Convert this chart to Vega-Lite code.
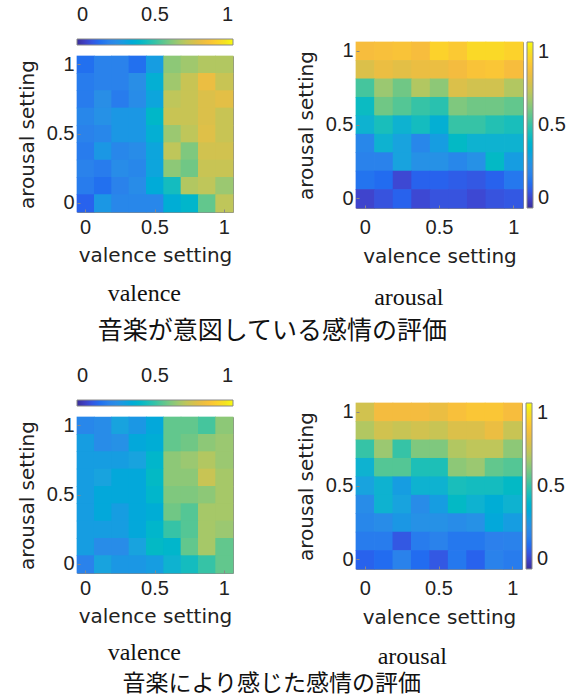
{
  "$schema": "https://vega.github.io/schema/vega-lite/v6.json",
  "background": "white",
  "padding": {"left": 16, "top": 39, "right": 4, "bottom": 2},
  "config": {
    "view": {"stroke": "#8a8a8a", "strokeWidth": 1},
    "font": "DejaVu Sans",
    "axis": {"labelFont": "Liberation Sans", "titleFont": "DejaVu Sans", "labelFontSize": 20, "titleFontSize": 20, "titleFontWeight": "normal", "labelColor": "#222", "titleColor": "#222", "domain": false, "grid": false, "ticks": true, "tickSize": -3, "tickColor": "#888", "labelAngle": 0},
    "legend": {"labelFont": "Liberation Sans", "labelFontSize": 20, "labelColor": "#222", "gradientStrokeColor": "#888", "gradientStrokeWidth": 1},
    "title": {"fontWeight": "normal", "color": "#111"}
  },
  "datasets": {
    "spacer": [{"k": 1}],
    "tl": [
      {"v":0,"a":1,"z":0.15},{"v":0.125,"a":1,"z":0.2},{"v":0.25,"a":1,"z":0.2},{"v":0.375,"a":1,"z":0.15},{"v":0.5,"a":1,"z":0.3},{"v":0.625,"a":1,"z":0.62},{"v":0.75,"a":1,"z":0.65},{"v":0.875,"a":1,"z":0.68},{"v":1,"a":1,"z":0.68},
      {"v":0,"a":0.875,"z":0.18},{"v":0.125,"a":0.875,"z":0.2},{"v":0.25,"a":0.875,"z":0.2},{"v":0.375,"a":0.875,"z":0.25},{"v":0.5,"a":0.875,"z":0.37},{"v":0.625,"a":0.875,"z":0.65},{"v":0.75,"a":0.875,"z":0.72},{"v":0.875,"a":0.875,"z":0.8},{"v":1,"a":0.875,"z":0.72},
      {"v":0,"a":0.75,"z":0.18},{"v":0.125,"a":0.75,"z":0.25},{"v":0.25,"a":0.75,"z":0.18},{"v":0.375,"a":0.75,"z":0.24},{"v":0.5,"a":0.75,"z":0.33},{"v":0.625,"a":0.75,"z":0.7},{"v":0.75,"a":0.75,"z":0.72},{"v":0.875,"a":0.75,"z":0.76},{"v":1,"a":0.75,"z":0.78},
      {"v":0,"a":0.625,"z":0.22},{"v":0.125,"a":0.625,"z":0.26},{"v":0.25,"a":0.625,"z":0.28},{"v":0.375,"a":0.625,"z":0.28},{"v":0.5,"a":0.625,"z":0.41},{"v":0.625,"a":0.625,"z":0.72},{"v":0.75,"a":0.625,"z":0.72},{"v":0.875,"a":0.625,"z":0.76},{"v":1,"a":0.625,"z":0.72},
      {"v":0,"a":0.5,"z":0.2},{"v":0.125,"a":0.5,"z":0.22},{"v":0.25,"a":0.5,"z":0.28},{"v":0.375,"a":0.5,"z":0.28},{"v":0.5,"a":0.5,"z":0.37},{"v":0.625,"a":0.5,"z":0.64},{"v":0.75,"a":0.5,"z":0.7},{"v":0.875,"a":0.5,"z":0.77},{"v":1,"a":0.5,"z":0.72},
      {"v":0,"a":0.375,"z":0.18},{"v":0.125,"a":0.375,"z":0.28},{"v":0.25,"a":0.375,"z":0.22},{"v":0.375,"a":0.375,"z":0.24},{"v":0.5,"a":0.375,"z":0.33},{"v":0.625,"a":0.375,"z":0.7},{"v":0.75,"a":0.375,"z":0.6},{"v":0.875,"a":0.375,"z":0.74},{"v":1,"a":0.375,"z":0.74},
      {"v":0,"a":0.25,"z":0.2},{"v":0.125,"a":0.25,"z":0.18},{"v":0.25,"a":0.25,"z":0.24},{"v":0.375,"a":0.25,"z":0.22},{"v":0.5,"a":0.25,"z":0.33},{"v":0.625,"a":0.25,"z":0.62},{"v":0.75,"a":0.25,"z":0.58},{"v":0.875,"a":0.25,"z":0.72},{"v":1,"a":0.25,"z":0.72},
      {"v":0,"a":0.125,"z":0.18},{"v":0.125,"a":0.125,"z":0.15},{"v":0.25,"a":0.125,"z":0.2},{"v":0.375,"a":0.125,"z":0.24},{"v":0.5,"a":0.125,"z":0.35},{"v":0.625,"a":0.125,"z":0.44},{"v":0.75,"a":0.125,"z":0.68},{"v":0.875,"a":0.125,"z":0.7},{"v":1,"a":0.125,"z":0.64},
      {"v":0,"a":0,"z":0.12},{"v":0.125,"a":0,"z":0.28},{"v":0.25,"a":0,"z":0.22},{"v":0.375,"a":0,"z":0.22},{"v":0.5,"a":0,"z":0.22},{"v":0.625,"a":0,"z":0.36},{"v":0.75,"a":0,"z":0.4},{"v":0.875,"a":0,"z":0.56},{"v":1,"a":0,"z":0.7}
    ],
    "tr": [
      {"v":0,"a":1,"z":0.83},{"v":0.125,"a":1,"z":0.84},{"v":0.25,"a":1,"z":0.85},{"v":0.375,"a":1,"z":0.83},{"v":0.5,"a":1,"z":0.9},{"v":0.625,"a":1,"z":0.87},{"v":0.75,"a":1,"z":0.92},{"v":0.875,"a":1,"z":0.92},{"v":1,"a":1,"z":0.9},
      {"v":0,"a":0.875,"z":0.76},{"v":0.125,"a":0.875,"z":0.8},{"v":0.25,"a":0.875,"z":0.78},{"v":0.375,"a":0.875,"z":0.8},{"v":0.5,"a":0.875,"z":0.8},{"v":0.625,"a":0.875,"z":0.82},{"v":0.75,"a":0.875,"z":0.85},{"v":0.875,"a":0.875,"z":0.86},{"v":1,"a":0.875,"z":0.83},
      {"v":0,"a":0.75,"z":0.52},{"v":0.125,"a":0.75,"z":0.64},{"v":0.25,"a":0.75,"z":0.58},{"v":0.375,"a":0.75,"z":0.68},{"v":0.5,"a":0.75,"z":0.62},{"v":0.625,"a":0.75,"z":0.76},{"v":0.75,"a":0.75,"z":0.74},{"v":0.875,"a":0.75,"z":0.74},{"v":1,"a":0.75,"z":0.68},
      {"v":0,"a":0.625,"z":0.43},{"v":0.125,"a":0.625,"z":0.58},{"v":0.25,"a":0.625,"z":0.54},{"v":0.375,"a":0.625,"z":0.5},{"v":0.5,"a":0.625,"z":0.48},{"v":0.625,"a":0.625,"z":0.6},{"v":0.75,"a":0.625,"z":0.58},{"v":0.875,"a":0.625,"z":0.58},{"v":1,"a":0.625,"z":0.56},
      {"v":0,"a":0.5,"z":0.38},{"v":0.125,"a":0.5,"z":0.45},{"v":0.25,"a":0.5,"z":0.38},{"v":0.375,"a":0.5,"z":0.44},{"v":0.5,"a":0.5,"z":0.37},{"v":0.625,"a":0.5,"z":0.5},{"v":0.75,"a":0.5,"z":0.5},{"v":0.875,"a":0.5,"z":0.47},{"v":1,"a":0.5,"z":0.45},
      {"v":0,"a":0.375,"z":0.22},{"v":0.125,"a":0.375,"z":0.38},{"v":0.25,"a":0.375,"z":0.32},{"v":0.375,"a":0.375,"z":0.22},{"v":0.5,"a":0.375,"z":0.3},{"v":0.625,"a":0.375,"z":0.42},{"v":0.75,"a":0.375,"z":0.38},{"v":0.875,"a":0.375,"z":0.38},{"v":1,"a":0.375,"z":0.38},
      {"v":0,"a":0.25,"z":0.2},{"v":0.125,"a":0.25,"z":0.2},{"v":0.25,"a":0.25,"z":0.32},{"v":0.375,"a":0.25,"z":0.26},{"v":0.5,"a":0.25,"z":0.26},{"v":0.625,"a":0.25,"z":0.22},{"v":0.75,"a":0.25,"z":0.26},{"v":0.875,"a":0.25,"z":0.42},{"v":1,"a":0.25,"z":0.3},
      {"v":0,"a":0.125,"z":0.16},{"v":0.125,"a":0.125,"z":0.14},{"v":0.25,"a":0.125,"z":0.07},{"v":0.375,"a":0.125,"z":0.12},{"v":0.5,"a":0.125,"z":0.12},{"v":0.625,"a":0.125,"z":0.11},{"v":0.75,"a":0.125,"z":0.1},{"v":0.875,"a":0.125,"z":0.12},{"v":1,"a":0.125,"z":0.17},
      {"v":0,"a":0,"z":0.06},{"v":0.125,"a":0,"z":0.09},{"v":0.25,"a":0,"z":0.12},{"v":0.375,"a":0,"z":0.07},{"v":0.5,"a":0,"z":0.09},{"v":0.625,"a":0,"z":0.09},{"v":0.75,"a":0,"z":0.07},{"v":0.875,"a":0,"z":0.09},{"v":1,"a":0,"z":0.1}
    ],
    "bl": [
      {"v":0,"a":1,"z":0.22},{"v":0.125,"a":1,"z":0.24},{"v":0.25,"a":1,"z":0.32},{"v":0.375,"a":1,"z":0.28},{"v":0.5,"a":1,"z":0.34},{"v":0.625,"a":1,"z":0.56},{"v":0.75,"a":1,"z":0.56},{"v":0.875,"a":1,"z":0.52},{"v":1,"a":1,"z":0.62},
      {"v":0,"a":0.875,"z":0.3},{"v":0.125,"a":0.875,"z":0.24},{"v":0.25,"a":0.875,"z":0.26},{"v":0.375,"a":0.875,"z":0.34},{"v":0.5,"a":0.875,"z":0.36},{"v":0.625,"a":0.875,"z":0.56},{"v":0.75,"a":0.875,"z":0.58},{"v":0.875,"a":0.875,"z":0.62},{"v":1,"a":0.875,"z":0.64},
      {"v":0,"a":0.75,"z":0.3},{"v":0.125,"a":0.75,"z":0.3},{"v":0.25,"a":0.75,"z":0.3},{"v":0.375,"a":0.75,"z":0.32},{"v":0.5,"a":0.75,"z":0.4},{"v":0.625,"a":0.75,"z":0.62},{"v":0.75,"a":0.75,"z":0.64},{"v":0.875,"a":0.75,"z":0.68},{"v":1,"a":0.75,"z":0.64},
      {"v":0,"a":0.625,"z":0.3},{"v":0.125,"a":0.625,"z":0.32},{"v":0.25,"a":0.625,"z":0.34},{"v":0.375,"a":0.625,"z":0.34},{"v":0.5,"a":0.625,"z":0.42},{"v":0.625,"a":0.625,"z":0.62},{"v":0.75,"a":0.625,"z":0.62},{"v":0.875,"a":0.625,"z":0.72},{"v":1,"a":0.625,"z":0.66},
      {"v":0,"a":0.5,"z":0.3},{"v":0.125,"a":0.5,"z":0.34},{"v":0.25,"a":0.5,"z":0.34},{"v":0.375,"a":0.5,"z":0.34},{"v":0.5,"a":0.5,"z":0.4},{"v":0.625,"a":0.5,"z":0.6},{"v":0.75,"a":0.5,"z":0.6},{"v":0.875,"a":0.5,"z":0.62},{"v":1,"a":0.5,"z":0.66},
      {"v":0,"a":0.375,"z":0.3},{"v":0.125,"a":0.375,"z":0.34},{"v":0.25,"a":0.375,"z":0.3},{"v":0.375,"a":0.375,"z":0.34},{"v":0.5,"a":0.375,"z":0.36},{"v":0.625,"a":0.375,"z":0.58},{"v":0.75,"a":0.375,"z":0.54},{"v":0.875,"a":0.375,"z":0.66},{"v":1,"a":0.375,"z":0.66},
      {"v":0,"a":0.25,"z":0.3},{"v":0.125,"a":0.25,"z":0.3},{"v":0.25,"a":0.25,"z":0.3},{"v":0.375,"a":0.25,"z":0.34},{"v":0.5,"a":0.25,"z":0.4},{"v":0.625,"a":0.25,"z":0.5},{"v":0.75,"a":0.25,"z":0.54},{"v":0.875,"a":0.25,"z":0.66},{"v":1,"a":0.25,"z":0.64},
      {"v":0,"a":0.125,"z":0.3},{"v":0.125,"a":0.125,"z":0.24},{"v":0.25,"a":0.125,"z":0.24},{"v":0.375,"a":0.125,"z":0.32},{"v":0.5,"a":0.125,"z":0.42},{"v":0.625,"a":0.125,"z":0.4},{"v":0.75,"a":0.125,"z":0.56},{"v":0.875,"a":0.125,"z":0.66},{"v":1,"a":0.125,"z":0.56},
      {"v":0,"a":0,"z":0.2},{"v":0.125,"a":0,"z":0.32},{"v":0.25,"a":0,"z":0.28},{"v":0.375,"a":0,"z":0.28},{"v":0.5,"a":0,"z":0.3},{"v":0.625,"a":0,"z":0.38},{"v":0.75,"a":0,"z":0.44},{"v":0.875,"a":0,"z":0.5},{"v":1,"a":0,"z":0.56}
    ],
    "br": [
      {"v":0,"a":1,"z":0.74},{"v":0.125,"a":1,"z":0.82},{"v":0.25,"a":1,"z":0.82},{"v":0.375,"a":1,"z":0.82},{"v":0.5,"a":1,"z":0.8},{"v":0.625,"a":1,"z":0.84},{"v":0.75,"a":1,"z":0.86},{"v":0.875,"a":1,"z":0.86},{"v":1,"a":1,"z":0.83},
      {"v":0,"a":0.875,"z":0.68},{"v":0.125,"a":0.875,"z":0.74},{"v":0.25,"a":0.875,"z":0.72},{"v":0.375,"a":0.875,"z":0.74},{"v":0.5,"a":0.875,"z":0.72},{"v":0.625,"a":0.875,"z":0.76},{"v":0.75,"a":0.875,"z":0.76},{"v":0.875,"a":0.875,"z":0.8},{"v":1,"a":0.875,"z":0.72},
      {"v":0,"a":0.75,"z":0.5},{"v":0.125,"a":0.75,"z":0.64},{"v":0.25,"a":0.75,"z":0.5},{"v":0.375,"a":0.75,"z":0.6},{"v":0.5,"a":0.75,"z":0.6},{"v":0.625,"a":0.75,"z":0.68},{"v":0.75,"a":0.75,"z":0.7},{"v":0.875,"a":0.75,"z":0.7},{"v":1,"a":0.75,"z":0.62},
      {"v":0,"a":0.625,"z":0.38},{"v":0.125,"a":0.625,"z":0.54},{"v":0.25,"a":0.625,"z":0.54},{"v":0.375,"a":0.625,"z":0.46},{"v":0.5,"a":0.625,"z":0.46},{"v":0.625,"a":0.625,"z":0.62},{"v":0.75,"a":0.625,"z":0.64},{"v":0.875,"a":0.625,"z":0.56},{"v":1,"a":0.625,"z":0.54},
      {"v":0,"a":0.5,"z":0.32},{"v":0.125,"a":0.5,"z":0.38},{"v":0.25,"a":0.5,"z":0.3},{"v":0.375,"a":0.5,"z":0.38},{"v":0.5,"a":0.5,"z":0.38},{"v":0.625,"a":0.5,"z":0.45},{"v":0.75,"a":0.5,"z":0.44},{"v":0.875,"a":0.5,"z":0.44},{"v":1,"a":0.5,"z":0.42},
      {"v":0,"a":0.375,"z":0.24},{"v":0.125,"a":0.375,"z":0.38},{"v":0.25,"a":0.375,"z":0.32},{"v":0.375,"a":0.375,"z":0.24},{"v":0.5,"a":0.375,"z":0.3},{"v":0.625,"a":0.375,"z":0.42},{"v":0.75,"a":0.375,"z":0.38},{"v":0.875,"a":0.375,"z":0.36},{"v":1,"a":0.375,"z":0.38},
      {"v":0,"a":0.25,"z":0.22},{"v":0.125,"a":0.25,"z":0.24},{"v":0.25,"a":0.25,"z":0.28},{"v":0.375,"a":0.25,"z":0.26},{"v":0.5,"a":0.25,"z":0.26},{"v":0.625,"a":0.25,"z":0.24},{"v":0.75,"a":0.25,"z":0.26},{"v":0.875,"a":0.25,"z":0.34},{"v":1,"a":0.25,"z":0.3},
      {"v":0,"a":0.125,"z":0.18},{"v":0.125,"a":0.125,"z":0.18},{"v":0.25,"a":0.125,"z":0.1},{"v":0.375,"a":0.125,"z":0.18},{"v":0.5,"a":0.125,"z":0.2},{"v":0.625,"a":0.125,"z":0.17},{"v":0.75,"a":0.125,"z":0.17},{"v":0.875,"a":0.125,"z":0.19},{"v":1,"a":0.125,"z":0.2},
      {"v":0,"a":0,"z":0.12},{"v":0.125,"a":0,"z":0.14},{"v":0.25,"a":0,"z":0.2},{"v":0.375,"a":0,"z":0.14},{"v":0.5,"a":0,"z":0.1},{"v":0.625,"a":0,"z":0.17},{"v":0.75,"a":0,"z":0.12},{"v":0.875,"a":0,"z":0.2},{"v":1,"a":0,"z":0.18}
    ]
  },
  "resolve": {"scale": {"color": "independent"}, "legend": {"color": "independent"}},
  "spacing": 56,
  "vconcat": [
    {
      "resolve": {"scale": {"color": "independent"}, "legend": {"color": "independent"}},
      "spacing": 61,
      "title": {"text": "音楽が意図している感情の評価", "orient": "bottom", "anchor": "middle", "font": "Noto Sans CJK JP", "fontSize": 25, "offset": 9, "dx": -19},
      "hconcat": [
        {
          "title": {"text": "valence", "orient": "bottom", "anchor": "middle", "font": "Liberation Serif", "fontSize": 24, "offset": 16, "dx": 19},
          "spacing": 0,
          "vconcat": [
            {
              "width": 156, "height": 11,
              "data": {"name": "spacer"},
              "view": {"stroke": null},
              "mark": {"type": "point", "opacity": 0},
              "encoding": {}
            },
            {
              "width": 156, "height": 156,
              "data": {"name": "tl"},
              "mark": {"type": "rect", "width": {"band": 1.04}, "height": {"band": 1.04}},
              "encoding": {
                "x": {"field": "v", "type": "ordinal", "scale": {"paddingInner": 0, "paddingOuter": 0}, "axis": {"values": [0, 0.5, 1], "title": "valence setting", "labelPadding": 8, "titlePadding": 8}},
                "y": {"field": "a", "type": "ordinal", "sort": "descending", "scale": {"paddingInner": 0, "paddingOuter": 0}, "axis": {"values": [0, 0.5, 1], "title": "arousal setting", "labelPadding": 6, "titlePadding": 9}},
                "color": {"field": "z", "type": "quantitative",
                  "scale": {"domain": [0, 0.0635, 0.127, 0.1905, 0.254, 0.3175, 0.381, 0.4444, 0.508, 0.5714, 0.6349, 0.6984, 0.7619, 0.8254, 0.8889, 0.9524, 1], "range": ["#3a2f9a", "#3f45d0", "#2466f0", "#2c80ec", "#2a8fe6", "#1aa2de", "#0fb2d0", "#18bdbd", "#3cc4a2", "#6ac788", "#98c873", "#bec65a", "#dcc04a", "#f6bc3e", "#fdce2e", "#f5e420", "#f9fb0e"]},
                  "legend": {"type": "gradient", "orient": "top", "direction": "horizontal", "title": null, "values": [0, 0.5, 1], "format": "~g", "gradientLength": 156, "gradientThickness": 6, "labelOffset": -40, "offset": -4, "labelAlign": "center"}}
              }
            }
          ]
        },
        {
          "title": {"text": "arousal", "orient": "bottom", "anchor": "middle", "font": "Liberation Serif", "fontSize": 24, "offset": 19, "dx": -22},
          "vconcat": [
            {
              "width": 167, "height": 166,
              "data": {"name": "tr"},
              "mark": {"type": "rect", "width": {"band": 1.04}, "height": {"band": 1.04}},
              "encoding": {
                "x": {"field": "v", "type": "ordinal", "scale": {"paddingInner": 0, "paddingOuter": 0}, "axis": {"values": [0, 0.5, 1], "title": "valence setting", "labelPadding": 12, "titlePadding": 9}},
                "y": {"field": "a", "type": "ordinal", "sort": "descending", "scale": {"paddingInner": 0, "paddingOuter": 0}, "axis": {"values": [0, 0.5, 1], "title": "arousal setting", "labelPadding": 6, "titlePadding": 9}},
                "color": {"field": "z", "type": "quantitative",
                  "scale": {"domain": [0, 0.0635, 0.127, 0.1905, 0.254, 0.3175, 0.381, 0.4444, 0.508, 0.5714, 0.6349, 0.6984, 0.7619, 0.8254, 0.8889, 0.9524, 1], "range": ["#3a2f9a", "#3f45d0", "#2466f0", "#2c80ec", "#2a8fe6", "#1aa2de", "#0fb2d0", "#18bdbd", "#3cc4a2", "#6ac788", "#98c873", "#bec65a", "#dcc04a", "#f6bc3e", "#fdce2e", "#f5e420", "#f9fb0e"]},
                  "legend": {"type": "gradient", "orient": "right", "direction": "vertical", "title": null, "values": [0, 0.5, 1], "format": "~g", "gradientLength": 166, "gradientThickness": 6, "labelOffset": 5, "offset": 3, "labelBaseline": "middle"}}
              }
            }
          ]
        }
      ]
    },
    {
      "resolve": {"scale": {"color": "independent"}, "legend": {"color": "independent"}},
      "spacing": 61,
      "title": {"text": "音楽により感じた感情の評価", "orient": "bottom", "anchor": "middle", "font": "Noto Sans CJK JP", "fontSize": 23, "offset": 4, "dx": -19},
      "hconcat": [
        {
          "title": {"text": "valence", "orient": "bottom", "anchor": "middle", "font": "Liberation Serif", "fontSize": 24, "offset": 14, "dx": 19},
          "spacing": 0,
          "vconcat": [
            {
              "width": 156, "height": 11,
              "data": {"name": "spacer"},
              "view": {"stroke": null},
              "mark": {"type": "point", "opacity": 0},
              "encoding": {}
            },
            {
              "width": 156, "height": 156,
              "data": {"name": "bl"},
              "mark": {"type": "rect", "width": {"band": 1.04}, "height": {"band": 1.04}},
              "encoding": {
                "x": {"field": "v", "type": "ordinal", "scale": {"paddingInner": 0, "paddingOuter": 0}, "axis": {"values": [0, 0.5, 1], "title": "valence setting", "labelPadding": 8, "titlePadding": 8}},
                "y": {"field": "a", "type": "ordinal", "sort": "descending", "scale": {"paddingInner": 0, "paddingOuter": 0}, "axis": {"values": [0, 0.5, 1], "title": "arousal setting", "labelPadding": 6, "titlePadding": 9}},
                "color": {"field": "z", "type": "quantitative",
                  "scale": {"domain": [0, 0.0635, 0.127, 0.1905, 0.254, 0.3175, 0.381, 0.4444, 0.508, 0.5714, 0.6349, 0.6984, 0.7619, 0.8254, 0.8889, 0.9524, 1], "range": ["#3a2f9a", "#3f45d0", "#2466f0", "#2c80ec", "#2a8fe6", "#1aa2de", "#0fb2d0", "#18bdbd", "#3cc4a2", "#6ac788", "#98c873", "#bec65a", "#dcc04a", "#f6bc3e", "#fdce2e", "#f5e420", "#f9fb0e"]},
                  "legend": {"type": "gradient", "orient": "top", "direction": "horizontal", "title": null, "values": [0, 0.5, 1], "format": "~g", "gradientLength": 156, "gradientThickness": 6, "labelOffset": -40, "offset": -4, "labelAlign": "center"}}
              }
            }
          ]
        },
        {
          "title": {"text": "arousal", "orient": "bottom", "anchor": "middle", "font": "Liberation Serif", "fontSize": 24, "offset": 17, "dx": -18},
          "vconcat": [
            {
              "width": 166, "height": 166,
              "data": {"name": "br"},
              "mark": {"type": "rect", "width": {"band": 1.04}, "height": {"band": 1.04}},
              "encoding": {
                "x": {"field": "v", "type": "ordinal", "scale": {"paddingInner": 0, "paddingOuter": 0}, "axis": {"values": [0, 0.5, 1], "title": "valence setting", "labelPadding": 12, "titlePadding": 9}},
                "y": {"field": "a", "type": "ordinal", "sort": "descending", "scale": {"paddingInner": 0, "paddingOuter": 0}, "axis": {"values": [0, 0.5, 1], "title": "arousal setting", "labelPadding": 6, "titlePadding": 9}},
                "color": {"field": "z", "type": "quantitative",
                  "scale": {"domain": [0, 0.0635, 0.127, 0.1905, 0.254, 0.3175, 0.381, 0.4444, 0.508, 0.5714, 0.6349, 0.6984, 0.7619, 0.8254, 0.8889, 0.9524, 1], "range": ["#3a2f9a", "#3f45d0", "#2466f0", "#2c80ec", "#2a8fe6", "#1aa2de", "#0fb2d0", "#18bdbd", "#3cc4a2", "#6ac788", "#98c873", "#bec65a", "#dcc04a", "#f6bc3e", "#fdce2e", "#f5e420", "#f9fb0e"]},
                  "legend": {"type": "gradient", "orient": "right", "direction": "vertical", "title": null, "values": [0, 0.5, 1], "format": "~g", "gradientLength": 166, "gradientThickness": 6, "labelOffset": 5, "offset": 3, "labelBaseline": "middle"}}
              }
            }
          ]
        }
      ]
    }
  ]
}
